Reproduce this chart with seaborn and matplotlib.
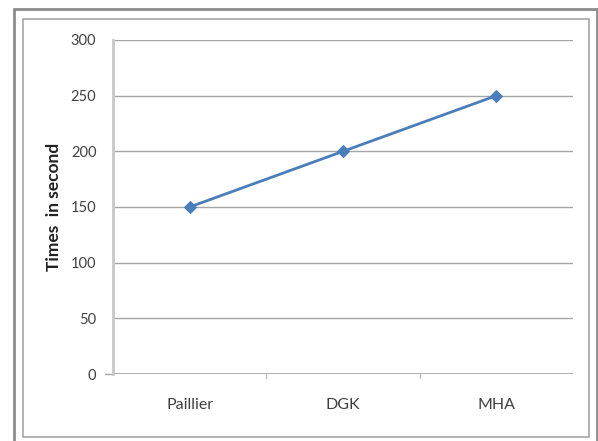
import matplotlib
matplotlib.use("Agg")
import matplotlib.pyplot as plt
import seaborn as sns
import pandas as pd
from matplotlib.patches import Rectangle

methods = ["Paillier", "DGK", "MHA"]
times = [150, 200, 250]
yticks = [0, 50, 100, 150, 200, 250, 300]

df = pd.DataFrame({"method": methods, "time": times})

sns.set_style("white")
plt.rcParams['font.family'] = ['Lato', 'DejaVu Sans']

fig = plt.figure(figsize=(5.98, 4.41), dpi=100)
ax = fig.add_axes([113/598, 1 - 374/441, (573-113)/598, (374-40)/441])

sns.lineplot(data=df, x="method", y="time", ax=ax, color="#4a7ebb",
             marker="D", markersize=6, linewidth=2, markeredgecolor="#4a7ebb",
             sort=False)

ax.set_xlim(-0.5, 2.5)
ax.set_ylim(0, 300)
ax.set_yticks(yticks)
ax.set_yticklabels([str(v) for v in yticks])
ax.grid(axis="y", color="#a6a6a6", linewidth=1)
ax.set_axisbelow(True)
for s in ["top", "right", "bottom"]:
    ax.spines[s].set_visible(False)
ax.spines["left"].set_color("#c8c8c8")
ax.spines["left"].set_linewidth(2)
ax.axhline(0, color="#a6a6a6", linewidth=1.2, zorder=1)

ax.set_xticks([0, 1, 2])
ax.set_xticklabels(methods)
ax.tick_params(axis="x", length=0, pad=17, labelsize=11.5, colors="#404040")
ax.tick_params(axis="y", length=0, pad=12, labelsize=10.5, colors="#404040")
for xb in [0.5, 1.5]:
    ax.plot([xb, xb], [0, -4], color="#bfbfbf", linewidth=1, clip_on=False)
ax.plot([-0.5, -0.55], [0, 0], color="#a6a6a6", linewidth=1, clip_on=False)

ax.set_xlabel("")
ax.set_ylabel("Times  in second", fontsize=12.5, fontweight="bold", color="#202020", labelpad=6)

# outer and inner frames
fig.patches.append(Rectangle((14/598, -3/441), (597-14)/598, (432+3)/441,
                             transform=fig.transFigure, fill=False,
                             edgecolor="#8c8c8c", linewidth=2))
fig.patches.append(Rectangle((23/598, 4/441), (589-23)/598, (422-4)/441,
                             transform=fig.transFigure, fill=False,
                             edgecolor="#a6a6a6", linewidth=1.2))

fig.savefig("out.png", dpi=100)
